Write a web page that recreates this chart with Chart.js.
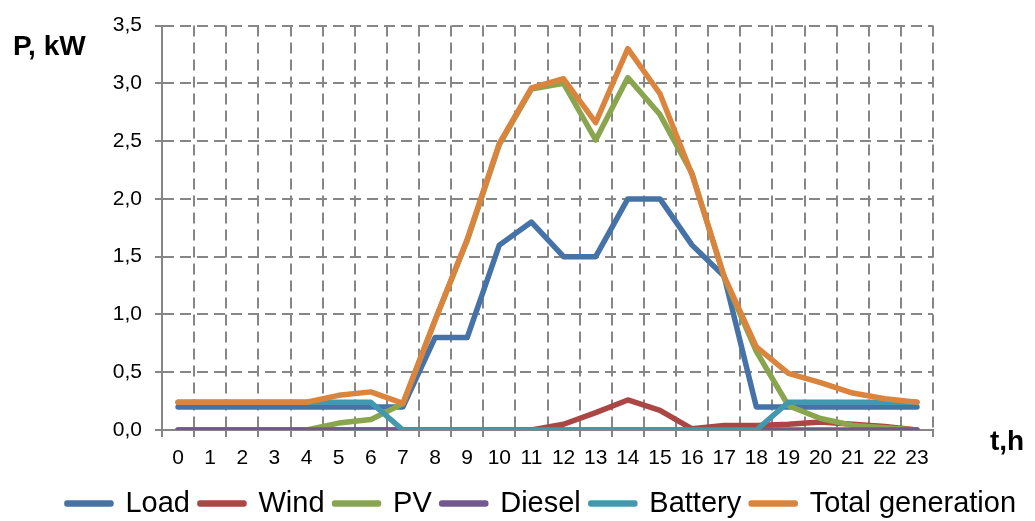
<!DOCTYPE html>
<html>
<head>
<meta charset="utf-8">
<script src="https://cdn.jsdelivr.net/npm/chart.js@4/dist/chart.umd.min.js"></script>
<style>
  html, body { margin: 0; padding: 0; background: #fff; overflow: hidden; }
  #wrap { width: 1035px; height: 528px; position: relative; }
</style>
</head>
<body>
<div id="wrap"><canvas id="myChart"></canvas></div>
<script>
var hours = ["0", "1", "2", "3", "4", "5", "6", "7", "8", "9", "10", "11", "12", "13", "14", "15", "16", "17", "18", "19", "20", "21", "22", "23"];
var seriesNames = ["Load", "Wind", "PV", "Diesel", "Battery", "Total generation"];
var load = [0.2, 0.2, 0.2, 0.2, 0.2, 0.2, 0.2, 0.2, 0.8, 0.8, 1.6, 1.8, 1.5, 1.5, 2.0, 2.0, 1.6, 1.33, 0.2, 0.2, 0.2, 0.2, 0.2, 0.2];
var wind = [0, 0, 0, 0, 0, 0, 0, 0, 0, 0, 0, 0, 0.05, 0.15, 0.26, 0.17, 0.01, 0.04, 0.04, 0.05, 0.07, 0.05, 0.03, 0];
var pv = [0, 0, 0, 0, 0, 0.06, 0.09, 0.23, 0.95, 1.64, 2.47, 2.95, 3.0, 2.51, 3.05, 2.73, 2.22, 1.32, 0.68, 0.21, 0.10, 0.04, 0.02, 0];
var diesel = [0, 0, 0, 0, 0, 0, 0, 0, 0, 0, 0, 0, 0, 0, 0, 0, 0, 0, 0, 0, 0, 0, 0, 0];
var battery = [0.24, 0.24, 0.24, 0.24, 0.24, 0.24, 0.24, 0, 0, 0, 0, 0, 0, 0, 0, 0, 0, 0, 0, 0.24, 0.24, 0.24, 0.24, 0.24];
var total = [0.24, 0.24, 0.24, 0.24, 0.24, 0.3, 0.33, 0.23, 0.95, 1.65, 2.48, 2.96, 3.04, 2.66, 3.3, 2.91, 2.21, 1.33, 0.72, 0.49, 0.41, 0.32, 0.27, 0.24];
var yTickLabels = ["0,0", "0,5", "1,0", "1,5", "2,0", "2,5", "3,0", "3,5"];
var yTitle = "P, kW";
var xTitle = "t,h";

var lineColors = ["#4572A7", "#AA4643", "#89A54E", "#71588F", "#4198AF", "#DB843D"];
var gridColor = "#868686";
var fontFamily = '"Liberation Sans", Arial, sans-serif';

var allSeries = [load, wind, pv, diesel, battery, total];
var datasets = allSeries.map(function (vals, i) {
    return {
        label: seriesNames[i],
        data: vals,
        borderColor: lineColors[i],
        backgroundColor: lineColors[i],
        borderWidth: 5.5,
        borderJoinStyle: "round",
        borderCapStyle: "round",
        pointRadius: 0,
        tension: 0,
        fill: false,
        // excel draws later series on top
        order: allSeries.length - 1 - i
    };
});

var axisTitles = {
    id: "axisTitles",
    afterDraw: function (chart) {
        var ctx = chart.ctx;
        ctx.save();
        ctx.fillStyle = "#000";
        ctx.font = "bold 28px " + fontFamily;
        ctx.textBaseline = "alphabetic";
        ctx.textAlign = "left";
        ctx.fillText(yTitle, 13, 55);
        ctx.fillText(xTitle, 990, 450);
        ctx.restore();
    }
};

var ctx = document.getElementById("myChart").getContext("2d");
var config = {
    type: "line",
    data: { labels: hours, datasets: datasets },
    options: {
        responsive: true,
        maintainAspectRatio: false,
        animation: false,
        layout: { padding: { left: 48, top: 22, right: 0, bottom: 0 } },
        plugins: {
            tooltip: { enabled: false },
            legend: {
                position: "bottom",
                labels: {
                    color: "#000",
                    font: { family: fontFamily, size: 29 },
                    boxWidth: 44,
                    boxHeight: 1,
                    padding: 10,
                    sort: function (a, b) { return a.datasetIndex - b.datasetIndex; }
                }
            }
        },
        scales: {
            x: {
                offset: true,
                grid: { offset: true, color: gridColor, lineWidth: 2, tickLength: 7 },
                border: { display: true, color: gridColor, width: 2, dash: [11, 6] },
                ticks: { color: "#000", font: { family: fontFamily, size: 21 }, padding: 9, maxRotation: 0, autoSkip: false },
                afterFit: function (s) { s.height = 49; }
            },
            y: {
                min: 0,
                max: 3.5,
                ticks: {
                    stepSize: 0.5,
                    color: "#000",
                    font: { family: fontFamily, size: 21 },
                    padding: 13,
                    callback: function (v, i) { return yTickLabels[i]; }
                },
                grid: { color: gridColor, lineWidth: 2, tickLength: 7 },
                border: { display: true, color: gridColor, width: 2, dash: [11, 6] },
                afterFit: function (s) { s.width = 114; }
            },
            r: {
                position: "right",
                display: true,
                grid: { display: false, drawTicks: false },
                border: { display: false },
                ticks: { display: false },
                afterFit: function (s) { s.width = 102; }
            }
        }
    },
    plugins: [axisTitles]
};

var myChart = new Chart(ctx, config);
</script>
</body>
</html>
